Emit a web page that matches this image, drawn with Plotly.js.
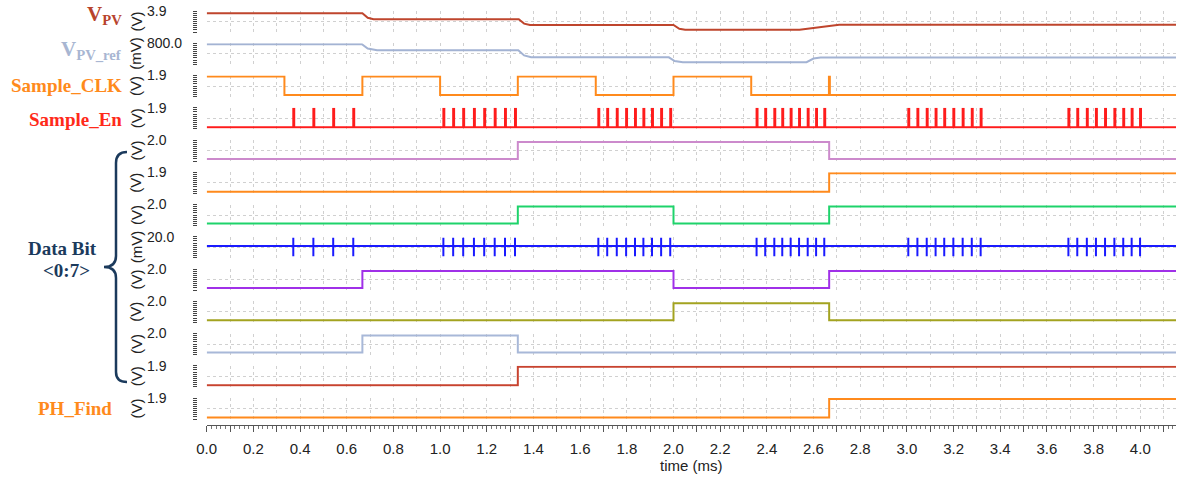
<!DOCTYPE html>
<html><head><meta charset="utf-8">
<script src="https://cdn.plot.ly/plotly-3.0.1.min.js"></script>
<style>html,body{margin:0;padding:0;background:#fff}#chart{width:1179px;height:478px}</style>
</head><body><div id="chart"></div>
<script>
// ---------------- data ----------------
const vpvTime = [0, 0.667, 0.69, 0.715, 1.337, 1.36, 1.385, 2.0, 2.025, 2.05, 2.54, 2.71, 4.153];
const vpvVolt = [3.856, 3.856, 3.77, 3.742, 3.742, 3.66, 3.633, 3.633, 3.56, 3.545, 3.545, 3.638, 3.638];

const vpvRefTime = [0, 0.665, 0.69, 0.73, 1.335, 1.36, 1.39, 1.98, 2.005, 2.04, 2.57, 2.6, 2.63, 4.153];
const vpvRefMv   = [795, 795, 775, 767, 767, 742, 733, 733, 715, 710, 710, 727, 732, 732];

const sampleClkTime  = [0, 0.333, 0.667, 1.0, 1.333, 1.667, 2.0, 2.333, 2.666, 2.670, 4.153];
const sampleClkLevel = [1.8, 0, 1.8, 0, 1.8, 0, 1.8, 0, 1.8, 0, 0];

const sampleEnSpikes = [
  0.371, 0.457, 0.542, 0.628,
  1.014, 1.056, 1.099, 1.145, 1.189, 1.234, 1.278, 1.321,
  1.678, 1.716, 1.757, 1.797, 1.835, 1.871, 1.908, 1.947, 1.986,
  2.356, 2.393, 2.432, 2.466, 2.502, 2.538, 2.575, 2.611, 2.646,
  3.006, 3.045, 3.085, 3.123, 3.160, 3.199, 3.239, 3.278, 3.316,
  3.692, 3.730, 3.771, 3.810, 3.849, 3.889, 3.927, 3.963, 3.999
];
const sampleEnHigh = 1.8, sampleEnLow = 0;

const bit0Time = [0, 1.333, 2.667, 4.153],            bit0Level = [0, 1.8, 0, 0];
const bit1Time = [0, 2.667, 4.153],                   bit1Level = [0, 1.8, 1.8];
const bit2Time = [0, 1.333, 2.0, 2.667, 4.153],       bit2Level = [0, 1.8, 0, 1.8, 1.8];
const bit3Spikes = sampleEnSpikes;                    // 20 mV bipolar pulses
const bit3Base = 0, bit3Up = 18, bit3Down = -22;
const bit4Time = [0, 0.667, 2.0, 2.667, 4.153],       bit4Level = [0, 1.8, 0, 1.8, 1.8];
const bit5Time = [0, 2.0, 2.667, 4.153],              bit5Level = [0, 1.8, 0, 0];
const bit6Time = [0, 0.667, 1.333, 4.153],            bit6Level = [0, 1.8, 0, 0];
const bit7Time = [0, 1.333, 4.153],                   bit7Level = [0, 1.8, 1.8];
const phFindTime = [0, 2.667, 4.153],                 phFindLevel = [0, 1.8, 1.8];

const yTopLabels = ['3.9','800.0','1.9','1.9','2.0','1.9','2.0','20.0','2.0','2.0','2.0','1.9','1.9'];
const yUnits     = ['(V)','(mV)','(V)','(V)','(V)','(V)','(V)','(mV)','(V)','(V)','(V)','(V)','(V)'];
const xTickVals = [0,0.1,0.2,0.3,0.4,0.5,0.6,0.7,0.8,0.9,1.0,1.1,1.2,1.3,1.4,1.5,1.6,1.7,1.8,1.9,2.0,2.1,2.2,2.3,2.4,2.5,2.6,2.7,2.8,2.9,3.0,3.1,3.2,3.3,3.4,3.5,3.6,3.7,3.8,3.9,4.0,4.1];
const xTickText = ['0.0','','0.2','','0.4','','0.6','','0.8','','1.0','','1.2','','1.4','','1.6','','1.8','','2.0','','2.2','','2.4','','2.6','','2.8','','3.0','','3.2','','3.4','','3.6','','3.8','','4.0',''];
const xMax = 4.153;

// ---------------- helpers to build pulse traces from spike lists ----------------
function pulseTrain(times, lo, hi, w, end) {
  const x = [0], y = [lo];
  times.forEach(t => { x.push(t, t + w); y.push(hi, lo); });
  x.push(end); y.push(lo);
  return {x, y};
}
function bipolarTrain(times, base, up, down, end) {
  const x = [0], y = [base];
  times.forEach(t => { x.push(t, t, t, t); y.push(base, up, down, base); });
  x.push(end); y.push(base);
  return {x, y};
}
const enTrain = pulseTrain(sampleEnSpikes, sampleEnLow, sampleEnHigh, 0.004, xMax);
const b3Train = bipolarTrain(bit3Spikes, bit3Base, bit3Up, bit3Down, xMax);

// ---------------- layout helpers ----------------
const W = 1179, H = 478;
const fx = p => p / W, fy = p => 1 - p / H;
const sans = 'Liberation Sans, Arial, sans-serif';
const serif = 'Liberation Serif, Times New Roman, serif';
const gridColor = '#d0d0d0';

const rows = [
  {x: vpvTime, y: vpvVolt, color:'#BF452D', range:[3.5,3.9], shape:'linear'},
  {x: vpvRefTime, y: vpvRefMv, color:'#A3B3D3', range:[700,800], shape:'linear'},
  {x: sampleClkTime, y: sampleClkLevel, color:'#FF8A1C', range:[-0.15,1.9], shape:'hv'},
  {x: enTrain.x, y: enTrain.y, color:'#FF1C1C', range:[-0.15,1.9], shape:'hv'},
  {x: bit0Time, y: bit0Level, color:'#CC8ACC', range:[-0.2,2.0], shape:'hv'},
  {x: bit1Time, y: bit1Level, color:'#FF8A1C', range:[-0.15,1.9], shape:'hv'},
  {x: bit2Time, y: bit2Level, color:'#1ED36B', range:[-0.2,2.0], shape:'hv'},
  {x: b3Train.x, y: b3Train.y, color:'#1A1AFF', range:[-25,20], shape:'linear'},
  {x: bit4Time, y: bit4Level, color:'#A030E8', range:[-0.2,2.0], shape:'hv'},
  {x: bit5Time, y: bit5Level, color:'#A3A320', range:[-0.2,2.0], shape:'hv'},
  {x: bit6Time, y: bit6Level, color:'#A8B8D8', range:[-0.2,2.0], shape:'hv'},
  {x: bit7Time, y: bit7Level, color:'#C8432F', range:[-0.15,1.9], shape:'hv'},
  {x: phFindTime, y: phFindLevel, color:'#FF8A1C', range:[-0.15,1.9], shape:'hv'}
];

const xDomain = [fx(206.7), fx(1176)];
const layout = {
  width: W, height: H,
  margin: {l:0, r:0, t:0, b:0},
  paper_bgcolor: '#fff', plot_bgcolor: 'rgba(0,0,0,0)',
  showlegend: false,
  font: {family: sans, color: '#222'},
  xaxis: {
    domain: xDomain, range: [0, xMax],
    anchor: 'free', position: fy(425),
    tickmode: 'array', tickvals: xTickVals, ticktext: xTickText,
    ticks: 'outside', ticklen: 6, tickcolor: '#555',
    showline: true, linecolor: '#555', linewidth: 1,
    showgrid: true, gridcolor: gridColor, griddash: 'dot', gridwidth: 1,
    zeroline: false, fixedrange: true,
    minor: {ticks:'outside', ticklen:3, tickcolor:'#777', tickmode:'linear', tick0:0, dtick:0.02, showgrid:false},
    tickfont: {size: 15, family: sans, color: '#222'},
    ticklabelstandoff: 4,
    title: {text: 'time (ms)', font: {size: 15, family: sans, color:'#222'}, standoff: 1}
  },
  // hidden x axis used only by the ruler (tick-mark) y axes, so they add no extra grid
  xaxis2: {domain: xDomain, range: [0, xMax], anchor: 'free', position: fy(425), visible: false},
  annotations: [],
  shapes: []
};

const rulerTraces = [];
const traces = [];
const rowTop0 = 11, rowStep = 32.25, rowH = 21;
rows.forEach((r, i) => {
  const n = i + 1;
  const top = rowTop0 + rowStep * i, bot = top + rowH;
  const yName = n === 1 ? 'yaxis' : 'yaxis' + n;
  const yRef = n === 1 ? 'y' : 'y' + n;
  const [lo, hi] = r.range;
  const rn = n + rows.length;
  traces.push({type:'scatter', mode:'lines', x:r.x, y:r.y, xaxis:'x', yaxis:yRef,
               line:{color:r.color, width:2, shape:r.shape}, hoverinfo:'skip', showlegend:false});
  layout[yName] = {
    domain: [fy(bot), fy(top)], range: [lo, hi],
    anchor: 'free', position: fx(146), side: 'right',
    tickmode: 'array', tickvals: [lo, (lo + hi) / 2, hi], ticktext: ['', '', yTopLabels[i]],
    ticks: '', showgrid: true, gridcolor: gridColor, griddash: 'dot', gridwidth: 1,
    zeroline: false, showline: false, fixedrange: true,
    tickfont: {size: 14, family: sans, color: '#222'}
  };
  // ruler axis: dense tick marks left of each row
  layout['yaxis' + rn] = {
    domain: [fy(bot), fy(top)], range: [lo, hi], anchor: 'free', position: fx(197), side: 'left',
    tickmode: 'linear', tick0: lo, dtick: (hi - lo) / 10,
    ticks: 'outside', ticklen: 4, showticklabels: false, showgrid: false,
    zeroline: false, showline: false
  };
  rulerTraces.push({x:[0], y:[hi], xaxis:'x2', yaxis:'y' + rn, mode:'lines', line:{width:0},
                    hoverinfo:'skip', showlegend:false});
  layout.annotations.push({
    xref:'paper', yref:'paper', x: fx(136), y: fy(top + rowH / 2),
    text: yUnits[i], textangle: -90, showarrow:false, xanchor:'center', yanchor:'middle',
    font: {size: 15, family: sans, color: '#222'}
  });
});

// left-hand signal names
const nameFont = (c, s) => ({family: serif, size: s, color: c, weight: 'bold'});
function addName(text, xRight, yMid, color, size, anchor) {
  layout.annotations.push({xref:'paper', yref:'paper', x: fx(xRight), y: fy(yMid), text: text,
    showarrow:false, xanchor: anchor || 'right', yanchor:'middle', font: nameFont(color, size)});
}
addName('V<sub>PV</sub>', 124, 15, '#B8432C', 21);
addName('V<sub>PV_ref</sub>', 124, 50, '#A8B6D2', 21);
addName('Sample_CLK', 124, 86, '#FF8A1C', 19);
addName('Sample_En', 124, 119, '#FF2A1A', 19);
addName('Data Bit', 62, 248, '#1B3A5C', 19, 'center');
addName('&lt;0:7&gt;', 66, 270, '#1B3A5C', 19, 'center');
addName('PH_Find', 114, 408, '#FF8A1C', 19);

// curly brace
const P = (a, b) => fx(a) + ',' + fy(b);
layout.shapes.push({
  type:'path', xref:'paper', yref:'paper',
  path: 'M' + P(127,152) + ' Q' + P(116,152) + ' ' + P(116,163) +
        ' L' + P(116,256) + ' Q' + P(116,267) + ' ' + P(104,267) +
        ' Q' + P(116,267) + ' ' + P(116,278) + ' L' + P(116,372) +
        ' Q' + P(116,382) + ' ' + P(127,382),
  line: {color:'#1B3A5C', width:2.5}
});

Plotly.newPlot('chart', traces.concat(rulerTraces), layout, {staticPlot:true, displayModeBar:false});
</script>
</body></html>
